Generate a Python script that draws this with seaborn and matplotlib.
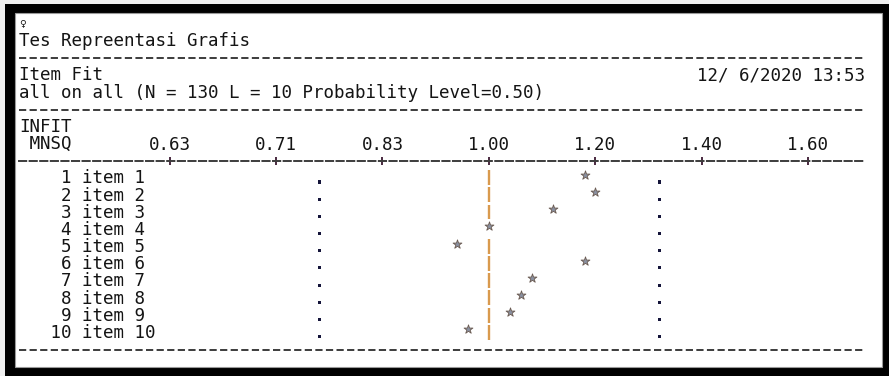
import numpy as np
import pandas as pd
import matplotlib
matplotlib.use('Agg')
import matplotlib.pyplot as plt
import matplotlib.transforms as mtransforms
from matplotlib.patches import Rectangle
import seaborn as sns

# values
items = ['item 1', 'item 2', 'item 3', 'item 4', 'item 5',
         'item 6', 'item 7', 'item 8', 'item 9', 'item 10']
item_no = [1, 2, 3, 4, 5, 6, 7, 8, 9, 10]
infit = [1.18, 1.20, 1.12, 1.00, 0.943, 1.18, 1.08, 1.06, 1.04, 0.962]
ci_low = [0.758] * 10
ci_high = [1.32] * 10
tick_vals = [0.625, 0.714, 0.833, 1.00, 1.20, 1.40, 1.60]
tick_labels = ['0.63', '0.71', '0.83', '1.00', '1.20', '1.40', '1.60']

title = 'Tes Repreentasi Grafis'
subtitle = 'Item Fit'
run_info = 'all on all (N = 130 L = 10 Probability Level=0.50)'
date_str = '12/ 6/2020 13:53'

df = pd.DataFrame({'item': items, 'no': item_no, 'infit': infit,
                   'low': ci_low, 'high': ci_high})
df['row'] = np.arange(len(df)) + 9


def fwd(x):
    x = np.asarray(x, dtype=float)
    with np.errstate(divide='ignore', invalid='ignore'):
        return np.where(x >= 1, x, 2 - 1 / x)


def inv(t):
    t = np.asarray(t, dtype=float)
    with np.errstate(divide='ignore', invalid='ignore'):
        return np.where(t >= 1, t, 1 / (2 - t))


sns.set_theme(style='white')
plt.rcParams['font.family'] = ['DejaVu Sans Mono', 'DejaVu Sans']
plt.rcParams['lines.scale_dashes'] = False
FS = 12.6
TXT = '#141414'
DASH = (0, (5.2, 2.42))

fig = plt.figure(figsize=(8.89, 3.76), dpi=100)
fig.patch.set_facecolor('#f0f0f0')
fig.add_artist(Rectangle((5 / 889, 0), 884 / 889, 372 / 376, transform=fig.transFigure,
                         facecolor='black', edgecolor='none', zorder=0))
fig.add_artist(Rectangle((15 / 889, 9 / 376), 867 / 889, 354 / 376, transform=fig.transFigure,
                         facecolor='white', edgecolor='#9a9a9a', lw=0.8, zorder=0))

ax = fig.add_axes([19 / 889, 9 / 376, 846 / 889, 354 / 376])
ax.set_facecolor('none')
ax.set_xscale('function', functions=(fwd, inv))
ax.set_xlim(0.5307, 1.7074)
ax.set_ylim(19.99, -0.62)

# reference line at 1.00 (broken per row like the '|' characters)
rows_bar = df.loc[df['infit'] != 1.0, 'row'].to_numpy()
ax.vlines(np.full(len(rows_bar), 1.0), rows_bar - 0.47, rows_bar + 0.4,
          color='#d99a4e', lw=1.7, zorder=2)

# confidence limits
sns.scatterplot(x=df['low'], y=df['row'] + 0.22, marker='s', s=5, color='#14143a',
                edgecolor='none', ax=ax, zorder=3)
sns.scatterplot(x=df['high'], y=df['row'] + 0.22, marker='s', s=5, color='#14143a',
                edgecolor='none', ax=ax, zorder=3)
# infit mean squares
sns.scatterplot(data=df, x='infit', y=df['row'] - 0.2, marker='*', s=45,
                color='#8a90a0', edgecolor='#6a5a50', linewidth=0.6, ax=ax, zorder=4)

ax.set_xlabel('')
ax.set_ylabel('')
ax.set_yticks([])

# axis line drawn like the ----+---- row
ax.xaxis.set_ticks_position('top')
ax.xaxis.set_label_position('top')
ax.spines['top'].set_position(('data', 8))
ax.spines['top'].set_linestyle(DASH)
ax.spines['top'].set_linewidth(1.4)
ax.spines['top'].set_color('#3c3c3c')
for s in ['left', 'right', 'bottom']:
    ax.spines[s].set_visible(False)
ax.set_xticks(tick_vals, tick_labels)
ax.minorticks_off()
ax.tick_params(axis='x', direction='inout', length=6, width=1.4, color='#4a2a40',
               pad=2, labelsize=FS, labelcolor=TXT)

for r in [2, 5, 19]:
    ax.axhline(r, color='#3c3c3c', lw=1.4, ls=DASH, zorder=1)

tr = mtransforms.blended_transform_factory(ax.transAxes, ax.transData)
base = 0.3
ax.text(0, 0, '\u2640', transform=tr, fontsize=8, va='center', ha='left', color=TXT)
ax.text(0, 1 + base, title, transform=tr, fontsize=FS, va='baseline', ha='left', color=TXT)
ax.text(0, 3 + base, subtitle, transform=tr, fontsize=FS, va='baseline', ha='left', color=TXT)
ax.text(1, 3 + base, date_str, transform=tr, fontsize=FS, va='baseline', ha='right', color=TXT)
ax.text(0, 4 + base, run_info, transform=tr, fontsize=FS, va='baseline', ha='left', color=TXT)
ax.text(0, 6 + base, 'INFIT', transform=tr, fontsize=FS, va='baseline', ha='left', color=TXT)
ax.text(0, 7 + base, ' MNSQ', transform=tr, fontsize=FS, va='baseline', ha='left', color=TXT)
for _, rw in df.iterrows():
    ax.text(0, rw['row'] + base, f"{rw['no']:>5} {rw['item']}", transform=tr,
            fontsize=FS, va='baseline', ha='left', color=TXT)

fig.savefig('out.png', dpi=100, facecolor=fig.get_facecolor())
